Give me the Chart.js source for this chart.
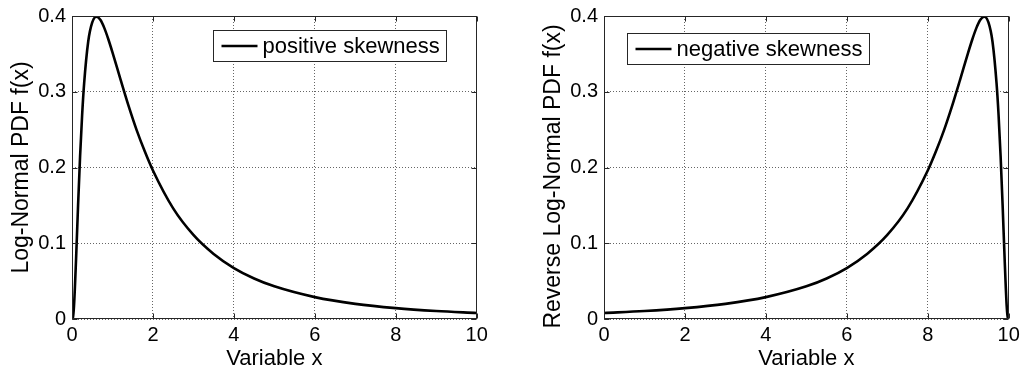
<!DOCTYPE html>
<html><head><meta charset="utf-8">
<script src="https://cdn.jsdelivr.net/npm/chart.js@4"></script>
<style>
html,body{margin:0;padding:0;background:#fff;}
#wrap{position:relative;width:1023px;height:376px;overflow:hidden;background:#fff;}
.p{position:absolute;top:0;height:376px;}
canvas{display:block;}
</style></head><body>
<div id="wrap">
<div class="p" style="left:0;width:512px"><canvas id="c1" width="512" height="376"></canvas></div>
<div class="p" style="left:532px;width:491px"><canvas id="c2" width="491" height="376"></canvas></div>
</div>
<script>
// ---- data ----
const xPositive = [0, 0.02, 0.05, 0.1, 0.15, 0.2, 0.25, 0.3, 0.4, 0.5, 0.6, 0.7, 0.8, 0.9, 1.0, 1.2, 1.4, 1.6, 1.8, 2.0, 2.5, 3, 3.5, 4, 4.5, 5, 6, 7, 8, 9, 10];
const yPositive = [0, 0.0012, 0.0177, 0.0786, 0.150, 0.215, 0.269, 0.311, 0.366, 0.3915, 0.399, 0.395, 0.384, 0.369, 0.352, 0.316, 0.281, 0.249, 0.221, 0.196, 0.146, 0.111, 0.0859, 0.0673, 0.0535, 0.0431, 0.0289, 0.0200, 0.0143, 0.0105, 0.0079];
const xNegative = [0, 1, 2, 3, 4, 5, 5.5, 6, 6.5, 7, 7.5, 8, 8.2, 8.4, 8.6, 8.8, 9.0, 9.1, 9.2, 9.3, 9.4, 9.5, 9.6, 9.7, 9.75, 9.8, 9.85, 9.9, 9.95, 9.98, 10];
const yNegative = [0.0079, 0.0105, 0.0143, 0.0200, 0.0289, 0.0431, 0.0535, 0.0673, 0.0859, 0.111, 0.146, 0.196, 0.221, 0.249, 0.281, 0.316, 0.352, 0.369, 0.384, 0.395, 0.399, 0.3915, 0.366, 0.311, 0.269, 0.215, 0.150, 0.0786, 0.0177, 0.0012, 0];
const xTickLabels = ['0', '2', '4', '6', '8', '10'];
const yTickLabels = ['0', '0.1', '0.2', '0.3', '0.4'];
const seriesNames = ['positive skewness', 'negative skewness'];
const xTitle = 'Variable x';
const yTitles = ['Log-Normal PDF f(x)', 'Reverse Log-Normal PDF f(x)'];

const FONT = '"Liberation Sans", Arial, Helvetica, sans-serif';
Chart.defaults.font.family = FONT;
Chart.defaults.color = '#000';

const framePlugin = {
  id: 'frame',
  afterDatasetsDraw(chart, args, opts) {
    const {ctx, chartArea: a} = chart;
    const xs = chart.scales.x, ys = chart.scales.y;
    ctx.save();
    ctx.strokeStyle = '#262626';
    ctx.lineWidth = 1;
    ctx.setLineDash([]);
    ctx.beginPath();
    const L = Math.round(a.left) + 0.5, R = Math.round(a.right) - 0.5;
    const T = Math.round(a.top) + 0.5, B = Math.round(a.bottom) - 0.5;
    xs.ticks.forEach(t => {
      const px = Math.round(xs.getPixelForValue(t.value)) + 0.5;
      ctx.moveTo(px, B); ctx.lineTo(px, B - 5);
      ctx.moveTo(px, T); ctx.lineTo(px, T + 5);
    });
    ys.ticks.forEach(t => {
      const py = Math.round(ys.getPixelForValue(t.value)) + 0.5;
      ctx.moveTo(L, py); ctx.lineTo(L + 5, py);
      ctx.moveTo(R, py); ctx.lineTo(R - 5, py);
    });
    ctx.stroke();
    ctx.strokeRect(L, T, R - L, B - T);
    // legend box
    const label = chart.data.datasets[0].label;
    ctx.font = '22px ' + FONT;
    const tw = ctx.measureText(label).width;
    const bx = Math.round(a.left + opts.dx) + 0.5;
    const by = Math.round(a.top + opts.dy) + 0.5;
    const bw = Math.round(8 + 36 + 5 + tw + 7);
    const bh = 31;
    ctx.fillStyle = '#fff';
    ctx.fillRect(bx, by, bw, bh);
    ctx.strokeStyle = '#262626';
    ctx.strokeRect(bx, by, bw, bh);
    ctx.beginPath();
    ctx.strokeStyle = '#000';
    ctx.lineWidth = 2.5;
    ctx.moveTo(bx + 8, by + bh / 2);
    ctx.lineTo(bx + 44, by + bh / 2);
    ctx.stroke();
    ctx.fillStyle = '#000';
    ctx.textBaseline = 'middle';
    ctx.textAlign = 'left';
    ctx.fillText(label, bx + 49, by + bh / 2 + 1);
    // y axis title
    ctx.save();
    ctx.font = '23px ' + FONT;
    ctx.translate(opts.tx, (a.top + a.bottom) / 2 + opts.ty);
    ctx.rotate(-Math.PI / 2);
    ctx.textAlign = 'center';
    ctx.textBaseline = 'middle';
    ctx.fillText(opts.yTitle, 0, 0);
    ctx.restore();
    ctx.restore();
  }
};

function makeChart(id, xs, ys, name, padRight, frameOpts) {
  const pts = xs.map((v, i) => ({x: v, y: ys[i]}));
  return new Chart(document.getElementById(id), {
    type: 'line',
    data: {datasets: [{label: name, data: pts, borderColor: '#000', borderWidth: 2.6,
      pointRadius: 0, cubicInterpolationMode: 'monotone', fill: false}]},
    options: {
      responsive: false,
      animation: false,
      events: [],
      layout: {padding: {top: 16, right: padRight, left: 0, bottom: 0}},
      plugins: {legend: {display: false}, tooltip: {enabled: false}, frame: frameOpts},
      scales: {
        x: {
          type: 'linear', min: 0, max: 10,
          afterFit(s) { s.height = 57; s.paddingLeft = 0; s.paddingRight = 0; },
          ticks: {stepSize: 2, padding: 4.5, maxRotation: 0, autoSkip: false, font: {size: 20},
            callback: (v, i) => xTickLabels[i]},
          grid: {drawTicks: false, color: 'rgba(0,0,0,0.6)', lineWidth: 1},
          border: {display: false, dash: [1, 2]},
          title: {display: true, text: xTitle, font: {size: 22}, padding: {top: 0, bottom: 4}}
        },
        y: {
          min: 0, max: 0.4,
          afterFit(s) { s.width = 72; s.paddingTop = 0; s.paddingBottom = 0; },
          ticks: {stepSize: 0.1, padding: 6, font: {size: 20},
            callback: (v, i) => yTickLabels[i]},
          grid: {drawTicks: false, color: 'rgba(0,0,0,0.6)', lineWidth: 1},
          border: {display: false, dash: [1, 2]},
          title: {display: false}
        }
      }
    },
    plugins: [framePlugin]
  });
}

makeChart('c1', xPositive, yPositive, seriesNames[0], 35.3, {dx: 140.7, dy: 14, yTitle: yTitles[0], tx: 22, ty: 0});
makeChart('c2', xNegative, yNegative, seriesNames[1], 14.3, {dx: 22.6, dy: 17, yTitle: yTitles[1], tx: 22, ty: 9});
</script>
</body></html>
